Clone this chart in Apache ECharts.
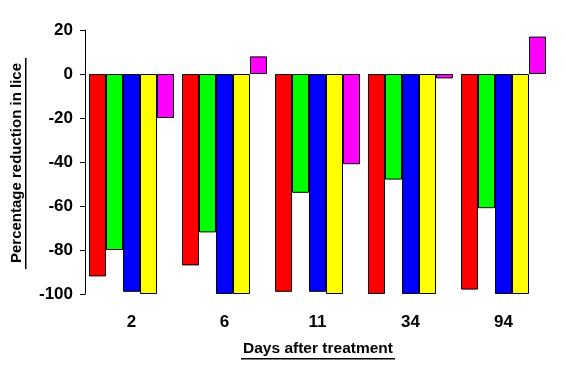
<!DOCTYPE html>
<html><head><meta charset="utf-8">
<script src="https://cdn.jsdelivr.net/npm/echarts@6/dist/echarts.min.js"></script>
<style>html,body{margin:0;padding:0;background:#fff}#c{width:565px;height:368px}</style>
</head><body><div id="c"></div>
<script>
const categories = ['2', '6', '11', '34', '94'];
const seriesRed = [-92, -87, -99, -100, -98];
const seriesGreen = [-80, -72, -54, -48, -61];
const seriesBlue = [-99, -100, -99, -100, -100];
const seriesYellow = [-100, -100, -100, -100, -100];
const seriesMagenta = [-20, 8, -41, -2, 17];
const yTicks = {min: -100, max: 20, interval: 20};

const F = '"Liberation Sans", Arial, sans-serif';
const chart = echarts.init(document.getElementById('c'), null, {renderer: 'canvas'});
function mk(name, data, color) {
  return {name, type: 'bar', data, barGap: '0%', barCategoryGap: '8.6%',
    itemStyle: {color, borderColor: '#000', borderWidth: 1}};
}
chart.setOption({
  animation: false,
  backgroundColor: '#fff',
  grid: {left: 85, right: 15, top: 30, bottom: 74},
  xAxis: {type: 'category', data: categories,
    axisLine: {show: false, onZero: false}, axisTick: {show: false},
    axisLabel: {color: '#000', fontFamily: F, fontWeight: 'bold', fontSize: 17, margin: 20}},
  yAxis: {type: 'value', min: yTicks.min, max: yTicks.max, interval: yTicks.interval,
    splitLine: {show: false},
    axisLine: {show: true, lineStyle: {color: '#000', width: 1}},
    axisTick: {show: true, length: 5, lineStyle: {color: '#000'}},
    axisLabel: {color: '#000', fontFamily: F, fontWeight: 'bold', fontSize: 17, margin: 12}},
  series: [
    mk('A', seriesRed, '#ff0000'),
    mk('B', seriesGreen, '#00ff00'),
    mk('C', seriesBlue, '#0000ff'),
    mk('D', seriesYellow, '#ffff00'),
    mk('E', seriesMagenta, '#ff00ff')
  ],
  graphic: [
    {type: 'text', x: 17, y: 163, rotation: Math.PI / 2,
      style: {text: 'Percentage reduction in lice', font: 'bold 15px ' + F, fill: '#000', align: 'center', verticalAlign: 'middle'}},
    {type: 'rect', shape: {x: 25, y: 58, width: 1.5, height: 211}, style: {fill: '#000'}},
    {type: 'text', x: 318, y: 349,
      style: {text: 'Days after treatment', font: 'bold 15.5px ' + F, fill: '#000', align: 'center', verticalAlign: 'middle'}},
    {type: 'rect', shape: {x: 241, y: 358, width: 154, height: 1.5}, style: {fill: '#000'}}
  ]
});
</script></body></html>
